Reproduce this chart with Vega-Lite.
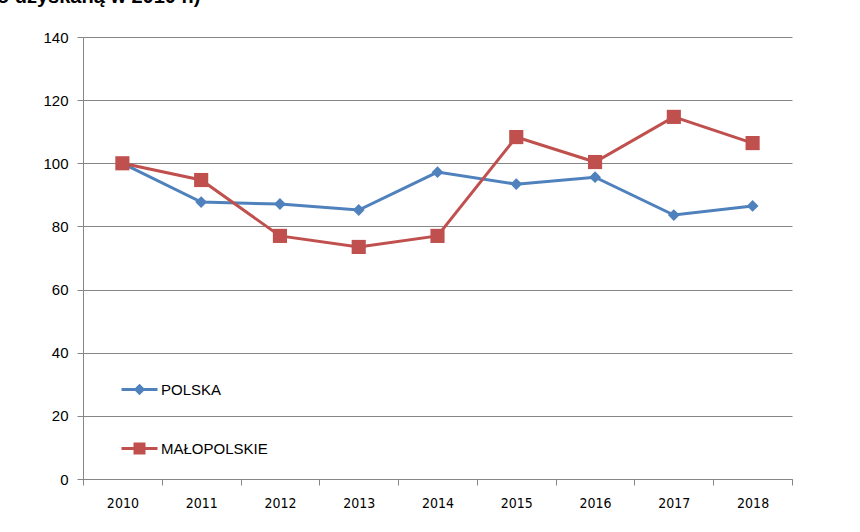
{
  "$schema": "https://vega.github.io/schema/vega-lite/v6.json",
  "width": 709,
  "height": 442,
  "autosize": {"type": "none"},
  "padding": {"left": 83, "top": 37, "right": 68, "bottom": 53},
  "background": "white",
  "title": {
    "text": "o uzyskaną w 2010 r.)",
    "anchor": "start",
    "frame": "group",
    "font": "Liberation Sans",
    "fontWeight": "bold",
    "fontSize": 20,
    "color": "#000000",
    "baseline": "alphabetic",
    "dx": -86,
    "offset": 7
  },
  "data": {
    "values": [
      {"year": "2010", "series": "POLSKA", "value": 100},
      {"year": "2011", "series": "POLSKA", "value": 87.7},
      {"year": "2012", "series": "POLSKA", "value": 87.1},
      {"year": "2013", "series": "POLSKA", "value": 85.2},
      {"year": "2014", "series": "POLSKA", "value": 97.2},
      {"year": "2015", "series": "POLSKA", "value": 93.4},
      {"year": "2016", "series": "POLSKA", "value": 95.6},
      {"year": "2017", "series": "POLSKA", "value": 83.6},
      {"year": "2018", "series": "POLSKA", "value": 86.5},
      {"year": "2010", "series": "MAŁOPOLSKIE", "value": 100},
      {"year": "2011", "series": "MAŁOPOLSKIE", "value": 94.7},
      {"year": "2012", "series": "MAŁOPOLSKIE", "value": 77.0},
      {"year": "2013", "series": "MAŁOPOLSKIE", "value": 73.5},
      {"year": "2014", "series": "MAŁOPOLSKIE", "value": 77.0},
      {"year": "2015", "series": "MAŁOPOLSKIE", "value": 108.3},
      {"year": "2016", "series": "MAŁOPOLSKIE", "value": 100.4},
      {"year": "2017", "series": "MAŁOPOLSKIE", "value": 114.7},
      {"year": "2018", "series": "MAŁOPOLSKIE", "value": 106.4}
    ]
  },
  "encoding": {
    "x": {
      "field": "year",
      "type": "ordinal",
      "scale": {"type": "band", "paddingInner": 0, "paddingOuter": 0},
      "axis": {
        "title": null,
        "labelAngle": 0,
        "tickBand": "extent",
        "tickSize": 6,
        "labelPadding": 11,
        "labelFont": "DejaVu Sans Condensed, Liberation Sans",
        "labelFontSize": 14,
        "labelColor": "#000000",
        "domainColor": "#868686",
        "tickColor": "#868686",
        "grid": false
      }
    },
    "y": {
      "field": "value",
      "type": "quantitative",
      "scale": {"domain": [0, 140], "nice": false, "zero": true},
      "axis": {
        "title": null,
        "values": [0, 20, 40, 60, 80, 100, 120, 140],
        "tickSize": 6,
        "labelPadding": 9,
        "labelFont": "Liberation Sans",
        "labelFontSize": 15,
        "labelColor": "#000000",
        "domainColor": "#868686",
        "tickColor": "#868686",
        "gridColor": "#868686",
        "gridWidth": 1
      }
    }
  },
  "layer": [
    {
      "mark": {"type": "line", "strokeWidth": 3},
      "encoding": {
        "stroke": {
          "field": "series",
          "type": "nominal",
          "scale": {"domain": ["POLSKA", "MAŁOPOLSKIE"], "range": ["#4F81BD", "#C0504D"]},
          "legend": {
            "title": null,
            "orient": "none",
            "legendX": 37,
            "legendY": 333,
            "rowPadding": 29,
            "symbolSize": 1296,
            "symbolStrokeWidth": 3,
            "labelOffset": 2,
            "labelFont": "Liberation Sans",
            "labelFontSize": 15,
            "labelColor": "#000000",
            "encode": {
              "symbols": {
                "update": {
                  "shape": {"signal": "datum.value == 'POLSKA' ? 'M-1,0L1,0M0,-0.2L0.2,0L0,0.2L-0.2,0Z' : 'M-1,0L1,0M-0.25,-0.25L0.25,-0.25L0.25,0.25L-0.25,0.25Z'"},
                  "fill": {"signal": "datum.value == 'POLSKA' ? '#4F81BD' : '#C0504D'"},
                  "stroke": {"signal": "datum.value == 'POLSKA' ? '#4F81BD' : '#C0504D'"},
                  "strokeWidth": {"value": 3}
                }
              }
            }
          }
        }
      }
    },
    {
      "mark": {"type": "point", "filled": true, "opacity": 1},
      "encoding": {
        "fill": {
          "condition": {"test": "datum.series == 'POLSKA'", "value": "#4F81BD"},
          "value": "#C0504D"
        },
        "shape": {
          "condition": {"test": "datum.series == 'POLSKA'", "value": "diamond"},
          "value": "square"
        },
        "size": {
          "condition": {"test": "datum.series == 'POLSKA'", "value": 140},
          "value": 200
        }
      }
    }
  ],
  "config": {
    "view": {"stroke": null}
  }
}
